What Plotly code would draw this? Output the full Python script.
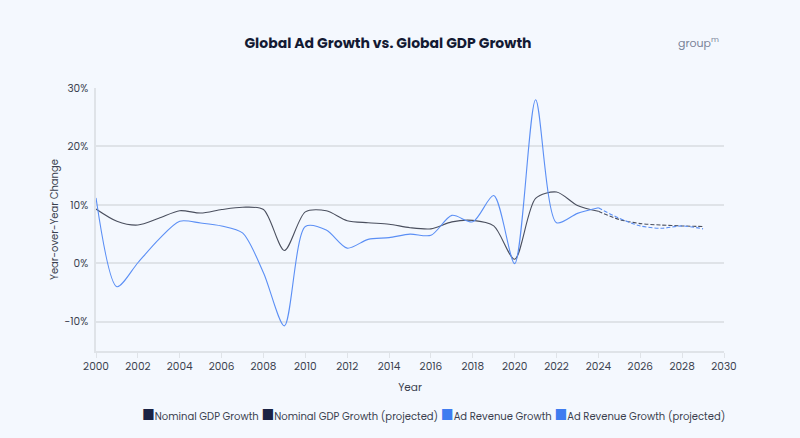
import plotly.graph_objects as go

years_hist = list(range(2000, 2025))
gdp_hist = [9.3, 7.2, 6.55, 7.7, 9.0, 8.6, 9.2, 9.6, 9.2, 2.2, 8.8, 9.0, 7.3, 6.95, 6.7, 6.1, 5.9,
            7.1, 7.35, 6.4, 0.7, 11.1, 12.2, 9.9, 8.9]
ad_hist = [11.2, -4.0, 0.1, 4.1, 7.2, 6.9, 6.4, 5.2, -1.6, -10.7, 6.3, 5.7, 2.6, 4.1, 4.4, 5.0, 4.8,
           8.2, 7.1, 11.6, -0.05, 28.0, 6.95, 8.55, 9.5]
years_proj = list(range(2024, 2030))
gdp_proj = [8.9, 7.5, 6.8, 6.55, 6.4, 6.3]
ad_proj = [9.5, 7.7, 6.4, 6.0, 6.4, 5.9]

x_ticks = list(range(2000, 2031, 2))
y_ticks = [-10, 0, 10, 20, 30]
y_labels = ["-10%", "0%", "10%", "20%", "30%"]

legend_names = ["Nominal GDP Growth", "Nominal GDP Growth (projected)", "Ad Revenue Growth", "Ad Revenue Growth (projected)"]

GDP_COLOR = "#4a4f5e"
GDP_LEG = "#1b2344"
AD_COLOR = "#5b8ff5"
AD_LEG = "#3f7cf0"
BG = "#f4f8fe"
FONT = "Poppins, Inter, Lato, sans-serif"
TXT = "#3a3f4e"

L, R, T, B = 96, 76, 88, 87
W, H = 800, 438
pw, ph = W - L - R, H - T - B

def px_x(x):
    return (x - L) / pw

def px_y(y):
    return (H - B - y) / ph

fig = go.Figure()
fig.add_trace(go.Scatter(x=years_hist, y=gdp_hist, mode="lines", name=legend_names[0],
                         line=dict(color=GDP_COLOR, width=1.1, shape="spline", smoothing=0.8)))
fig.add_trace(go.Scatter(x=years_proj, y=gdp_proj, mode="lines", name=legend_names[1],
                         line=dict(color=GDP_COLOR, width=1.1, dash="4px,2px", shape="spline", smoothing=0.8)))
fig.add_trace(go.Scatter(x=years_hist, y=ad_hist, mode="lines", name=legend_names[2],
                         line=dict(color=AD_COLOR, width=1.1, shape="spline", smoothing=0.8)))
fig.add_trace(go.Scatter(x=years_proj, y=ad_proj, mode="lines", name=legend_names[3],
                         line=dict(color=AD_COLOR, width=1.1, dash="4px,2px", shape="spline", smoothing=0.8)))

legend_colors = [GDP_LEG, GDP_LEG, AD_LEG, AD_LEG]
legend_text = " ".join(
    f'<span style="color:{c};font-size:14px">■</span>{n}' for n, c in zip(legend_names, legend_colors)
)

fig.update_layout(
    width=W, height=H,
    paper_bgcolor=BG, plot_bgcolor=BG,
    margin=dict(l=L, r=R, t=T, b=B),
    font=dict(family=FONT, color=TXT, size=11),
    showlegend=False,
    title=dict(text="<b>Global Ad Growth vs. Global GDP Growth</b>", x=388 / W, xanchor="center", y=1 - 43 / H, yanchor="middle",
               font=dict(size=14, color="#131a33", family=FONT)),
    xaxis=dict(range=[2000, 2030], tickvals=x_ticks, showgrid=False, showline=True, linecolor="#dfe3e8", linewidth=1.5,
               ticks="outside", ticklen=5, tickcolor="#dfe3e8", zeroline=False,
               title=dict(text="Year", font=dict(size=10.5, color=TXT), standoff=10),
               tickfont=dict(size=10.5, color=TXT)),
    yaxis=dict(range=[-15, 30], tickvals=y_ticks, ticktext=y_labels, showgrid=True, gridcolor="#dfe3e8", gridwidth=1.5,
               showline=True, linecolor="#dfe3e8", linewidth=1.5, zeroline=False, ticks="", ticklen=0,
               ticklabelstandoff=4,
               title=dict(text="Year-over-Year Change", font=dict(size=10, color=TXT), standoff=4),
               tickfont=dict(size=10.5, color=TXT)),
    annotations=[
        dict(text="group<sup>m</sup>", x=px_x(698), y=px_y(43), xref="paper", yref="paper", showarrow=False,
             xanchor="center", yanchor="middle", font=dict(size=11, color="#7a8499", family=FONT)),
        dict(text=legend_text, x=px_x(727), y=px_y(415), xref="paper", yref="paper", showarrow=False,
             xanchor="right", yanchor="middle", font=dict(size=10, color=TXT, family=FONT)),
    ],
)

fig.write_html("out.html", config={"displayModeBar": False},
               post_script="document.body.style.margin='0';document.body.style.background='#f4f8fe';")
